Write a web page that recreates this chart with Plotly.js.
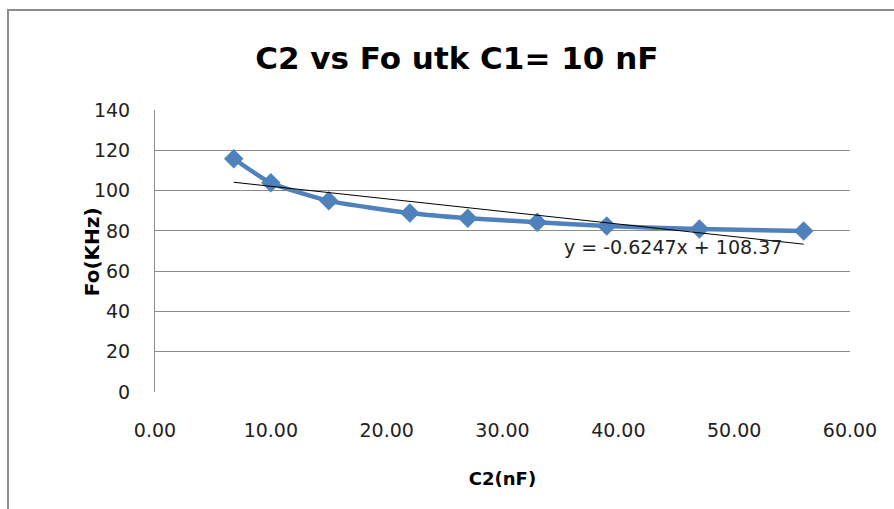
<!DOCTYPE html>
<html>
<head>
<meta charset="utf-8">
<script src="https://cdn.plot.ly/plotly-3.0.1.min.js"></script>
<style>
  html, body { margin: 0; padding: 0; background: #fff; }
  #chart { width: 894px; height: 509px; position: relative; }
  #frame { position: absolute; left: 7px; top: 9px; width: 900px; height: 520px;
           border-left: 2px solid #8c8c8c; border-top: 2px solid #8c8c8c; pointer-events: none; }
</style>
</head>
<body>
<div id="chart"></div>
<div id="frame"></div>
<script>
// Data
const c2 = [6.8, 10, 15, 22, 27, 33, 39, 47, 56];          // C2 (nF)
const fo = [115.8, 103.9, 94.9, 88.9, 86.3, 84.3, 82.4, 80.9, 79.9]; // Fo (KHz)
// Linear trendline (endpoints from the shown equation y = -0.6247x + 108.37)
const trendX = [6.8, 56];
const trendY = [104.12, 73.39];
const trendLabel = 'y = -0.6247x + 108.37';
const yTicks = [0, 20, 40, 60, 80, 100, 120, 140];
const xTicks = [0, 10, 20, 30, 40, 50, 60];

const font = "DejaVu Sans, Verdana, sans-serif";

const traces = [
  {
    x: c2, y: fo, type: 'scatter', mode: 'lines+markers',
    line: { color: '#4F81BD', width: 4.5, shape: 'spline', smoothing: 0.6 },
    marker: { symbol: 'diamond', size: 15, color: '#4F81BD' },
    hoverinfo: 'x+y', showlegend: false
  },
  {
    x: trendX, y: trendY, type: 'scatter', mode: 'lines',
    line: { color: '#000000', width: 1 },
    hoverinfo: 'skip', showlegend: false
  }
];

const layout = {
  width: 894, height: 509,
  margin: { l: 155, r: 44, t: 110, b: 117 },
  paper_bgcolor: 'rgba(0,0,0,0)', plot_bgcolor: 'rgba(0,0,0,0)',
  title: {
    text: '<b>C2 vs Fo utk C1= 10 nF</b>',
    font: { family: font, size: 31, color: '#000' },
    x: 0.511, xanchor: 'center', y: 0.885, yanchor: 'middle'
  },
  xaxis: {
    range: [0, 60], tickvals: xTicks, tickformat: '.2f',
    showgrid: false, zeroline: false, showline: false,
    ticks: '', ticklabelstandoff: 25,
    tickfont: { family: font, size: 19, color: '#222' },
    title: { text: '<b>C2(nF)</b>', font: { family: font, size: 18, color: '#000' }, standoff: 32 }
  },
  yaxis: {
    range: [0, 140], tickvals: yTicks,
    showgrid: true, gridcolor: '#8c8c8c', gridwidth: 1,
    zeroline: false, showline: true, linecolor: '#8c8c8c', linewidth: 1,
    ticks: '', ticklabelstandoff: 20,
    tickfont: { family: font, size: 19, color: '#222' }
  },
  annotations: [
    {
      x: 44.7, y: 72, xref: 'x', yref: 'y', text: trendLabel, showarrow: false,
      font: { family: font, size: 19, color: '#222' }, xanchor: 'center', yanchor: 'middle'
    },
    {
      // y-axis title
      x: -0.0906, y: 0.496, xref: 'paper', yref: 'paper', text: '<b>Fo(KHz)</b>',
      textangle: -90, showarrow: false,
      font: { family: font, size: 20, color: '#000' }, xanchor: 'center', yanchor: 'middle'
    }
  ],
  showlegend: false
};

Plotly.newPlot('chart', traces, layout, { displayModeBar: false, staticPlot: true });
</script>
</body>
</html>
